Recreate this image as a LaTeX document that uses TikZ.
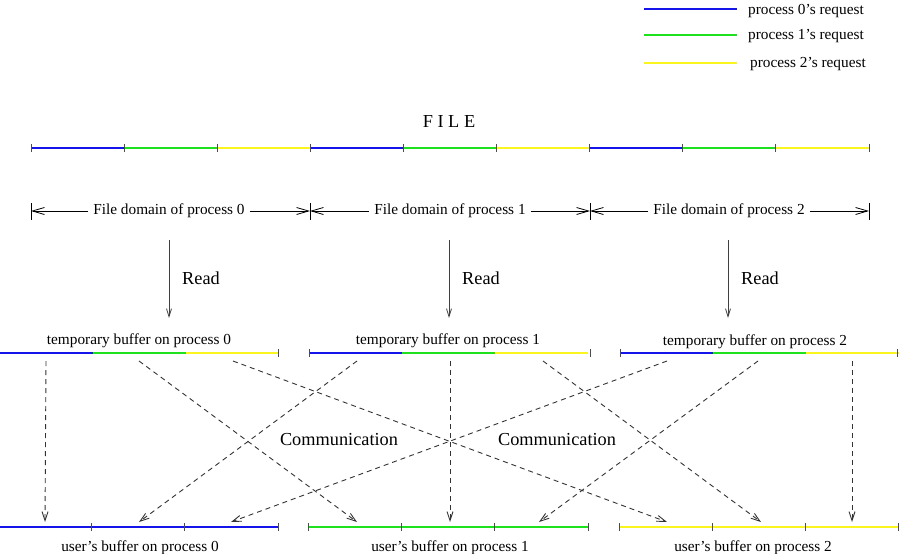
\documentclass[tikz,border=0pt]{standalone}
\usepackage{fontspec}
\setmainfont{Liberation Serif}
\usetikzlibrary{arrows.meta}

\definecolor{preqblue}{RGB}{20,20,235}
\definecolor{preqgreen}{RGB}{30,225,30}
\definecolor{preqyellow}{RGB}{250,245,30}

\begin{document}
\begin{tikzpicture}[x=1pt, y=-1pt,
    reqline/.style={line width=1.6pt},
    segtick/.style={line width=0.8pt, black!70},
    lbl/.style={font=\fontsize{15.3}{18}\selectfont, inner sep=5pt},
    biglbl/.style={font=\fontsize{18.3}{22}\selectfont, inner sep=5pt},
    domarrow/.style={line width=0.8pt, -{Straight Barb[length=12pt,width=7pt]}},
    readarrow/.style={line width=0.8pt, black!75, -{Straight Barb[length=8pt,width=5pt]}},
    commarrow/.style={line width=0.9pt, black!80, dash pattern=on 5pt off 4pt,
                      -{Straight Barb[length=9pt,width=6pt]}}]
    \useasboundingbox (0,0) rectangle (900,554);

    % legend
    \draw[reqline, preqblue] (644,9) -- (737,9);
    \draw[reqline, preqgreen] (644,35) -- (737,35);
    \draw[reqline, preqyellow] (644,63) -- (737,63);
    \node[lbl, anchor=west] (k0) at (743,11) {process 0's request};
    \node[lbl, anchor=west] (k1) at (743,36) {process 1's request};
    \node[lbl, anchor=west] (k2) at (745,64) {process 2's request};

    % the file
    \node[biglbl] (file) at (449,122) {F I L E};
    \foreach \n/\c in {0/preqblue,1/preqgreen,2/preqyellow,3/preqblue,4/preqgreen,
                       5/preqyellow,6/preqblue,7/preqgreen,8/preqyellow}
        \draw[reqline, \c] ({31+93.1*\n},148) -- ++(93.1,0);
    \foreach \n in {0,...,9}
        \draw[segtick] ({31+93.1*\n},144) -- ++(0,8);

    % file domains
    \foreach \n/\x in {0/31,1/310,2/590,3/869} {
        \coordinate (d\n) at (\x,211);
        \draw[segtick, black] (\x,203) -- (\x,220);
    }
    \node[lbl] (fd0) at (169,211) {File domain of process 0};
    \node[lbl] (fd1) at (450,211) {File domain of process 1};
    \node[lbl] (fd2) at (729,211) {File domain of process 2};
    \draw[domarrow] (fd0) -- (d0);
    \draw[domarrow] (fd0) -- (d1);
    \draw[domarrow] (fd1) -- (d1);
    \draw[domarrow] (fd1) -- (d2);
    \draw[domarrow] (fd2) -- (d2);
    \draw[domarrow] (fd2) -- (d3);

    % read
    \foreach \n/\x in {0/169,1/449,2/728} {
        \coordinate (r\n) at (\x,240);
        \coordinate (s\n) at (\x,318);
        \draw[readarrow] (r\n) -- (s\n);
        \node[biglbl, anchor=west] (rd\n) at (\x+8,278) {Read};
    }

    % temporary buffers
    \node[lbl] (tb0) at (139,341) {temporary buffer on process 0};
    \node[lbl] (tb1) at (448,341) {temporary buffer on process 1};
    \node[lbl] (tb2) at (755,342) {temporary buffer on process 2};
    \foreach \x in {0,309,620} {
        \draw[reqline, preqblue] (\x,353) -- ++(93,0);
        \draw[reqline, preqgreen] (\x+93,353) -- ++(93,0);
        \draw[reqline, preqyellow] (\x+186,353) -- ++(92.5,0);
    }
    \foreach \x in {278,309,590,620,897}
        \draw[segtick] (\x,349) -- ++(0,8);

    % user buffers
    \draw[reqline, preqblue] (0,527) -- (278,527);
    \draw[reqline, preqgreen] (308,527) -- (588,527);
    \draw[reqline, preqyellow] (619,527) -- (898,527);
    \foreach \x in {91,184,278,308,401,494,588,619,712,805,898}
        \draw[segtick] (\x,523) -- ++(0,8);
    \node[lbl] (ub0) at (140,548) {user's buffer on process 0};
    \node[lbl] (ub1) at (450,548) {user's buffer on process 1};
    \node[lbl] (ub2) at (753,548) {user's buffer on process 2};

    % communication
    \foreach \n/\x in {00/46,01/139,02/233,10/357,11/450,12/543,20/667,21/758,22/852}
        \coordinate (t\n) at (\x,361);
    \foreach \n/\x in {00/45,01/139,02/231,10/357,11/450,12/539,20/667,21/761,22/852}
        \coordinate (u\n) at (\x,522);
    \foreach \i in {0,1,2}
        \foreach \j in {0,1,2}
            \draw[commarrow] (t\j\i) -- (u\i\j);
    \node[biglbl] (cm0) at (339,440) {Communication};
    \node[biglbl] (cm1) at (557,440) {Communication};
\end{tikzpicture}
\end{document}
